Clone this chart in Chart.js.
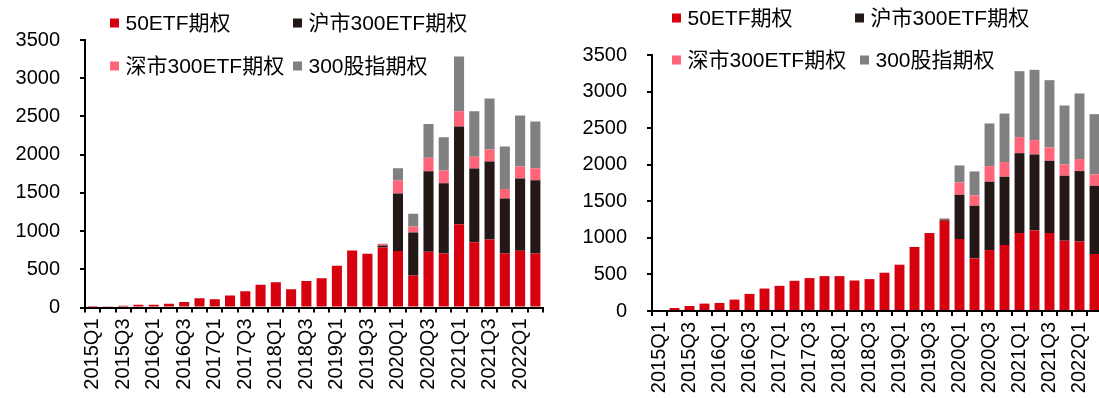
<!DOCTYPE html>
<html>
<head>
<meta charset="utf-8">
<script src="https://cdn.jsdelivr.net/npm/chart.js@4/dist/chart.umd.min.js"></script>
<style>
  body { margin: 0; width: 1099px; height: 398px; overflow: hidden; background: #fff; position: relative; }
  canvas { position: absolute; top: 0; }
</style>
</head>
<body>
<canvas id="leftChart" width="550" height="398" style="left:0"></canvas>
<canvas id="rightChart" width="560" height="398" style="left:550px"></canvas>
<script>
const quarters = [
    '2015Q1', '2015Q2', '2015Q3', '2015Q4',
    '2016Q1', '2016Q2', '2016Q3', '2016Q4',
    '2017Q1', '2017Q2', '2017Q3', '2017Q4',
    '2018Q1', '2018Q2', '2018Q3', '2018Q4',
    '2019Q1', '2019Q2', '2019Q3', '2019Q4',
    '2020Q1', '2020Q2', '2020Q3', '2020Q4',
    '2021Q1', '2021Q2', '2021Q3', '2021Q4',
    '2022Q1', '2022Q2'
];

const seriesNames = ['50ETF期权', '沪市300ETF期权', '深市300ETF期权', '300股指期权'];
const yTicks = [0, 500, 1000, 1500, 2000, 2500, 3000, 3500];

// left panel
const leftEtf50 = [2, 10, 22, 36, 36, 50, 72, 122, 108, 158, 212, 298, 330, 240, 347, 382, 547, 746, 703, 786,
    738, 420, 728, 706, 1090, 855, 889, 710, 741, 706];
const leftSh300 = [0, 0, 0, 0, 0, 0, 0, 0, 0, 0, 0, 0, 0, 0, 0, 0, 0, 0, 0, 24,
    755, 562, 1055, 920, 1278, 963, 1021, 716, 947, 960];
const leftSz300 = [0, 0, 0, 0, 0, 0, 0, 0, 0, 0, 0, 0, 0, 0, 0, 0, 0, 0, 0, 20,
    169, 78, 175, 166, 200, 153, 157, 126, 157, 157];
const leftIdx300 = [0, 0, 0, 0, 0, 0, 0, 0, 0, 0, 0, 0, 0, 0, 0, 0, 0, 0, 0, 5,
    160, 166, 444, 436, 717, 597, 668, 554, 667, 611];

// right panel
const rightEtf50 = [0, 41, 69, 101, 110, 156, 234, 307, 344, 413, 450, 477, 477, 417, 436, 523, 633, 876, 1066, 1234,
    984, 720, 833, 902, 1066, 1102, 1066, 961, 952, 779];
const rightSh300 = [0, 0, 0, 0, 0, 0, 0, 0, 0, 0, 0, 0, 0, 0, 0, 0, 0, 0, 0, 16,
    605, 719, 934, 933, 1092, 1038, 988, 888, 961, 933];
const rightSz300 = [0, 0, 0, 0, 0, 0, 0, 0, 0, 0, 0, 0, 0, 0, 0, 0, 0, 0, 0, 8,
    169, 141, 214, 201, 219, 196, 182, 155, 164, 155];
const rightIdx300 = [0, 0, 0, 0, 0, 0, 0, 0, 0, 0, 0, 0, 0, 0, 0, 0, 0, 0, 0, 8,
    232, 328, 583, 664, 902, 961, 920, 806, 897, 824];

const colors = ['rgb(215, 0, 15)', 'rgb(35, 24, 21)', 'rgb(255, 100, 120)', 'rgb(128, 128, 128)'];
const fontFamily = '"Liberation Sans", Arial, "Noto Sans CJK SC", sans-serif';

Chart.defaults.font.family = fontFamily;
Chart.defaults.color = '#000';

// two-row legend drawn straight onto the canvas
const gridLegend = {
    id: 'gridLegend',
    afterDraw(chart, args, opts) {
        const ctx = chart.ctx;
        ctx.save();
        ctx.font = '21px ' + fontFamily;
        ctx.textBaseline = 'middle';
        chart.data.datasets.forEach((ds, i) => {
            const [x, y] = opts.spots[i];
            ctx.fillStyle = ds.backgroundColor;
            ctx.fillRect(x, y - 4.5, 9, 9);
            ctx.fillStyle = '#000';
            ctx.fillText(ds.label, x + 15.5, y + 1);
        });
        ctx.restore();
    }
};

function makeChart(id, values, box, spots) {
    const datasets = seriesNames.map((name, i) => ({
        label: name,
        data: values[i],
        backgroundColor: colors[i],
        borderWidth: 0,
        categoryPercentage: 1,
        barPercentage: 0.66
    }));

    return new Chart(document.getElementById(id), {
        type: 'bar',
        data: { labels: quarters, datasets: datasets },
        options: {
            responsive: false,
            animation: false,
            layout: { padding: { left: 0, right: box.right, top: box.top, bottom: 0 } },
            plugins: {
                legend: { display: false },
                tooltip: { enabled: false },
                gridLegend: { spots: spots }
            },
            scales: {
                x: {
                    stacked: true,
                    afterFit: (scale) => {
                        scale.height = box.xHeight;
                        // keep the rotated labels from shrinking the plot sideways
                        scale.paddingLeft = 0;
                        scale.paddingRight = 0;
                    },
                    border: { display: true, color: '#000', width: 2 },
                    grid: {
                        display: true,
                        drawOnChartArea: false,
                        drawTicks: true,
                        tickLength: 5,
                        color: '#000',
                        lineWidth: 2
                    },
                    ticks: {
                        autoSkip: false,
                        minRotation: 90,
                        maxRotation: 90,
                        padding: 6,
                        color: '#000',
                        font: { size: 20 },
                        callback: (val, i) => (i % 2 === 0 ? quarters[i] : '')
                    }
                },
                y: {
                    stacked: true,
                    min: 0,
                    max: 3500,
                    afterFit: (scale) => { scale.width = box.left; },
                    afterBuildTicks: (scale) => { scale.ticks = yTicks.map(v => ({ value: v })); },
                    border: { display: true, color: '#000', width: 2 },
                    grid: {
                        display: true,
                        drawOnChartArea: false,
                        drawTicks: true,
                        tickLength: 5,
                        color: '#000',
                        lineWidth: 2
                    },
                    ticks: {
                        padding: 20,
                        color: '#000',
                        font: { size: 20 },
                        callback: (v) => String(v)
                    }
                }
            }
        },
        plugins: [gridLegend]
    });
}

makeChart('leftChart',
    [leftEtf50, leftSh300, leftSz300, leftIdx300],
    { left: 85, right: 7, top: 40, xHeight: 90.5 },
    [[110, 23], [293, 23], [110, 66], [293, 66]]);

makeChart('rightChart',
    [rightEtf50, rightSh300, rightSz300, rightIdx300],
    { left: 102, right: 8, top: 55, xHeight: 87 },
    [[122, 18], [305, 18], [122, 60], [310, 60]]);
</script>
</body>
</html>
